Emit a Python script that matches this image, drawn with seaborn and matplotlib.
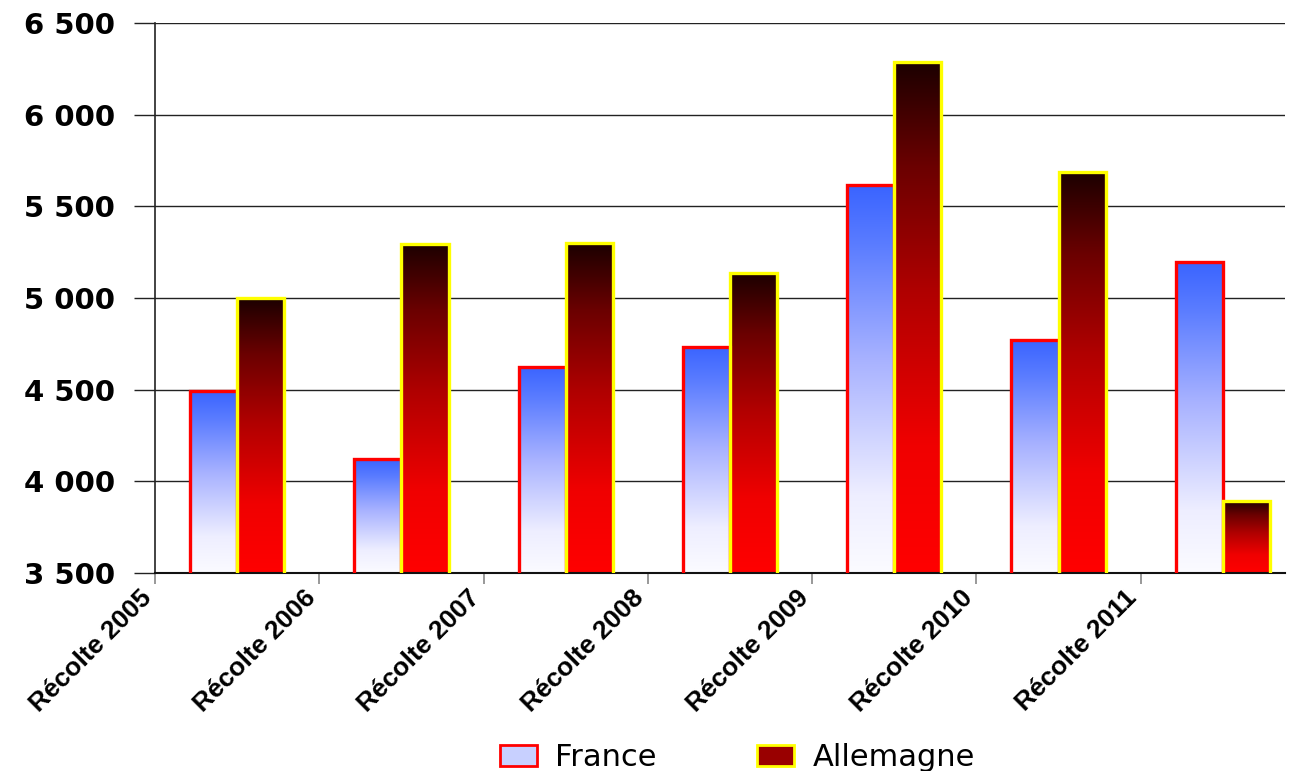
import numpy as np
import pandas as pd
import matplotlib
matplotlib.use("Agg")
import matplotlib.pyplot as plt
import matplotlib.transforms as mtransforms
import seaborn as sns
from matplotlib.colors import LinearSegmentedColormap
from matplotlib.patches import Patch
from matplotlib.ticker import FuncFormatter, MultipleLocator

# ---- data ----
recoltes = ["Récolte 2005", "Récolte 2006", "Récolte 2007", "Récolte 2008",
            "Récolte 2009", "Récolte 2010", "Récolte 2011"]
pays = ["France", "Allemagne"]
france = [4490, 4120, 4625, 4735, 5615, 4770, 5195]
allemagne = [5000, 5295, 5300, 5135, 6285, 5685, 3895]

df = pd.DataFrame({
    "Récolte": recoltes * 2,
    "Pays": [pays[0]] * len(recoltes) + [pays[1]] * len(recoltes),
    "Valeur": france + allemagne,
})

sns.set_style("white")
plt.rcParams["font.family"] = ["DejaVu Sans"]
plt.rcParams["text.color"] = "black"
plt.rcParams["xtick.labelcolor"] = "black"
plt.rcParams["ytick.labelcolor"] = "black"

fig = plt.figure(figsize=(12.89, 7.71), dpi=100)
ax = fig.add_axes([155 / 1289, 1 - 573 / 771, (1285 - 155) / 1289, (573 - 23) / 771])

sns.barplot(data=df, x="Récolte", y="Valeur", hue="Pays", order=recoltes,
            hue_order=pays, palette=["#aab4ff", "#990000"], width=0.574,
            dodge=True, gap=0, errorbar=None, legend=False, saturation=1, ax=ax)

ymin, ymax = 3500, 6500
xlim = (-0.5, 6.378)

cmaps = [
    LinearSegmentedColormap.from_list("fr", [(0, "#fbfbff"), (0.2, "#eeeeff"),
                                             (0.55, "#a8b2ff"), (0.85, "#5a7cff"),
                                             (1, "#3a64ff")]),
    LinearSegmentedColormap.from_list("de", [(0, "#ff0000"), (0.25, "#f00000"),
                                             (0.55, "#b00000"), (0.8, "#6a0000"),
                                             (1, "#1c0000")]),
]
edges = ["#ff0000", "#ffff00"]
grad = np.linspace(0, 1, 256).reshape(-1, 1)
for cont, cmap, ec in zip(ax.containers, cmaps, edges):
    for p in cont.patches:
        x0, y0 = p.get_x(), p.get_y()
        w, h = p.get_width(), p.get_height()
        lo = max(y0, ymin)
        hi = y0 + h
        im = ax.imshow(grad, extent=[x0, x0 + w, lo, hi], origin="lower",
                       aspect="auto", cmap=cmap, zorder=2.5)
        im.set_clip_path(p)
        p.set_facecolor("none")
        p.set_edgecolor(ec)
        p.set_linewidth(2.4)
        p.set_zorder(3)

ax.set_ylim(ymin, ymax)
ax.set_xlim(*xlim)

# axes styling
ax.yaxis.set_major_locator(MultipleLocator(500))
ax.yaxis.set_major_formatter(FuncFormatter(lambda v, _: f"{int(v):,}".replace(",", " ")))
ax.yaxis.grid(True, color="#222222", linewidth=1.0)
ax.xaxis.grid(False)
ax.set_axisbelow(True)
for s in ["top", "right"]:
    ax.spines[s].set_visible(False)
ax.spines["left"].set_color("#222222")
ax.spines["left"].set_linewidth(1.2)
ax.spines["bottom"].set_color("#111111")
ax.spines["bottom"].set_linewidth(1.5)

ax.tick_params(axis="y", left=True, length=15, width=1, color="#222222",
               pad=14, labelsize=21)
for lab in ax.get_yticklabels():
    lab.set_fontweight("bold")

ax.set_xticks([i - 0.5 for i in range(len(recoltes))])
ax.set_xticklabels(recoltes, rotation=45, ha="right", va="top",
                   rotation_mode="anchor", fontsize=19, fontweight="bold",
                   family="Liberation Sans")
ax.tick_params(axis="x", bottom=True, length=8, width=1.2, color="#888888", pad=4)
offset = mtransforms.ScaledTranslation(-16 / 100, 4 / 100, fig.dpi_scale_trans)
for lab in ax.get_xticklabels():
    lab.set_transform(lab.get_transform() + offset)
ax.set_xlabel("")
ax.set_ylabel("")

handles = [Patch(facecolor="#c8d0ff", edgecolor="#ff0000", linewidth=2),
           Patch(facecolor="#990000", edgecolor="#ffff00", linewidth=2)]
fig.legend(handles, pays, loc="center", bbox_to_anchor=(0.572, 0.017), ncol=2,
           frameon=False, fontsize=22, handlelength=1.2, handleheight=0.7,
           columnspacing=3.3, handletextpad=0.6)

fig.savefig("out.png", dpi=100, facecolor="white")
